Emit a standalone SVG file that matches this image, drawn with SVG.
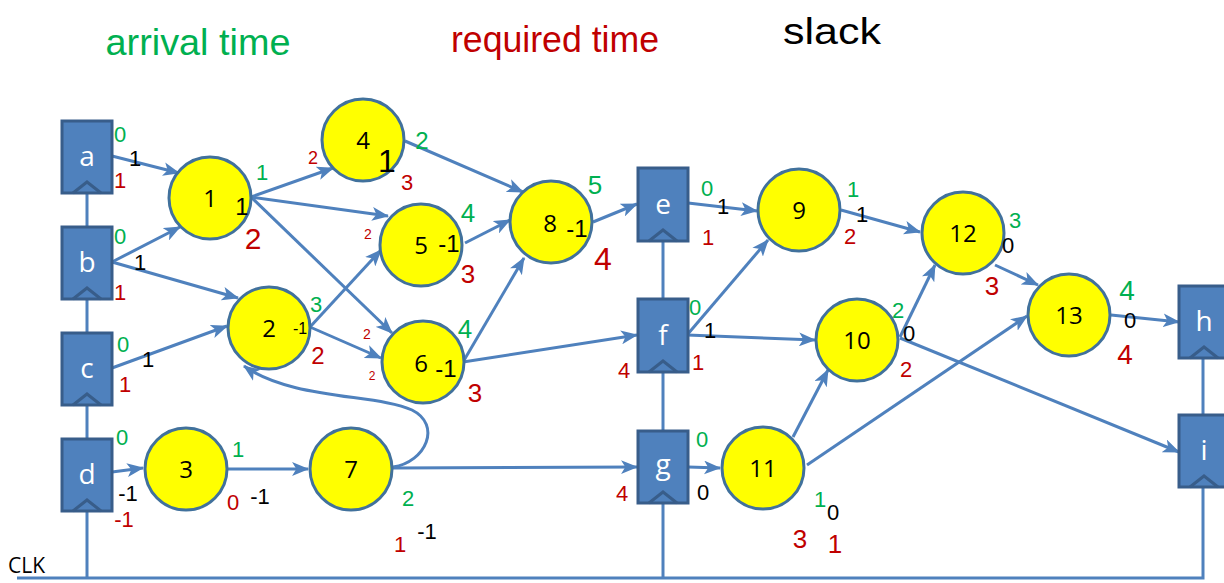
<svg xmlns="http://www.w3.org/2000/svg" width="1224" height="583" viewBox="0 0 1224 583">
  <defs>
    <marker id="arr" viewBox="0 0 16 13" refX="15" refY="6.5" markerWidth="17" markerHeight="14" markerUnits="userSpaceOnUse" orient="auto">
      <path d="M0,0 L16,6.5 L0,13 L4,6.5 z" fill="#4F81BD"/>
    </marker>
    <style>
      .reg rect { fill: #4F81BD; stroke: #385D8A; stroke-width: 3; }
      .reg polyline { fill: none; stroke: #385D8A; stroke-width: 3; }
      .reg text { font-family: "Open Sans", "Liberation Sans", sans-serif; font-size: 28px; fill: #ffffff; text-anchor: middle; }
      .gate circle { fill: #FFFF00; stroke: #41719C; stroke-width: 3; }
      .gate text { font-family: "Open Sans", "Liberation Sans", sans-serif; font-size: 24px; fill: #000000; text-anchor: middle; }
      .wire { fill: none; stroke: #4F81BD; stroke-width: 3; }
      .edge { fill: none; stroke: #4F81BD; stroke-width: 3; marker-end: url(#arr); }
      .note { font-family: "Liberation Sans", "DejaVu Sans", sans-serif; text-anchor: middle; }
      .g { fill: #00B050; }
      .r { fill: #C00000; }
      .k { fill: #000000; }
    </style>
  </defs>

  <!-- legend -->
  <g id="legend" class="note" font-size="36">
    <text class="g" x="198" y="55" textLength="185" lengthAdjust="spacingAndGlyphs">arrival time</text>
    <text class="r" x="555" y="52" textLength="208" lengthAdjust="spacingAndGlyphs">required time</text>
    <text class="k" x="832" y="44" textLength="98" lengthAdjust="spacingAndGlyphs">slack</text>
  </g>

  <!-- clock network and connectors -->
  <g id="connectors">
    <polyline class="wire" points="17,578 1203,578 1203,487"/>
    <line class="wire" x1="1203" y1="358" x2="1203" y2="414"/>
    <line class="wire" x1="87" y1="193" x2="87" y2="227"/>
    <line class="wire" x1="87" y1="299" x2="87" y2="332"/>
    <line class="wire" x1="87" y1="405" x2="87" y2="438"/>
    <line class="wire" x1="87" y1="511" x2="87" y2="578"/>
    <line class="wire" x1="663" y1="241" x2="663" y2="298"/>
    <line class="wire" x1="663" y1="372" x2="663" y2="430"/>
    <line class="wire" x1="663" y1="503" x2="663" y2="578"/>

    <line class="edge" x1="112" y1="156" x2="179" y2="173"/>
    <line class="edge" x1="112" y1="262" x2="180" y2="227"/>
    <line class="edge" x1="112" y1="262" x2="238" y2="298"/>
    <line class="edge" x1="112" y1="368" x2="227" y2="326"/>
    <line class="edge" x1="112" y1="472" x2="143" y2="468"/>
    <line class="edge" x1="228" y1="469" x2="308" y2="469"/>
    <line class="edge" x1="393" y1="468" x2="637" y2="467"/>
    <path class="edge" d="M393,467 C426,462 442,425 412,410 C378,394 292,400 244,366"/>

    <line class="edge" x1="251" y1="197" x2="333" y2="168"/>
    <line class="edge" x1="251" y1="197" x2="388" y2="216"/>
    <line class="edge" x1="251" y1="197" x2="392" y2="333"/>
    <line class="edge" x1="310" y1="327" x2="381" y2="250"/>
    <line class="edge" x1="310" y1="327" x2="381" y2="358"/>
    <line class="edge" x1="405" y1="141" x2="523" y2="192"/>
    <line class="edge" x1="465" y1="243" x2="510" y2="220"/>
    <line class="edge" x1="463" y1="362" x2="524" y2="258"/>
    <line class="edge" x1="463" y1="362" x2="637" y2="335"/>
    <line class="edge" x1="593" y1="222" x2="637" y2="204"/>

    <line class="edge" x1="688" y1="203" x2="757" y2="211"/>
    <line class="edge" x1="687" y1="335" x2="768" y2="240"/>
    <line class="edge" x1="687" y1="335" x2="815" y2="340"/>
    <line class="edge" x1="688" y1="467" x2="720" y2="468"/>
    <line class="edge" x1="793" y1="437" x2="828" y2="370"/>
    <line class="edge" x1="807" y1="465" x2="1027" y2="316"/>
    <line class="edge" x1="841" y1="210" x2="920" y2="232"/>
    <line class="edge" x1="900" y1="337" x2="935" y2="265"/>
    <line class="edge" x1="900" y1="338" x2="1179" y2="452"/>
    <line class="edge" x1="995" y1="265" x2="1038" y2="285"/>
    <line class="edge" x1="1111" y1="315" x2="1179" y2="322"/>
  </g>

  <!-- registers -->
  <g id="reg-a" class="reg"><rect x="62" y="121" width="50" height="72"/><polyline points="73,193 87,182 101,193"/><text x="87" y="166">a</text></g>
  <g id="reg-b" class="reg"><rect x="62" y="227" width="50" height="72"/><polyline points="73,299 87,288 101,299"/><text x="87" y="272">b</text></g>
  <g id="reg-c" class="reg"><rect x="62" y="333" width="50" height="72"/><polyline points="73,405 87,394 101,405"/><text x="87" y="378">c</text></g>
  <g id="reg-d" class="reg"><rect x="62" y="439" width="50" height="72"/><polyline points="73,511 87,500 101,511"/><text x="87" y="484">d</text></g>
  <g id="reg-e" class="reg"><rect x="638" y="168" width="50" height="73"/><polyline points="649,241 663,230 677,241"/><text x="663" y="214">e</text></g>
  <g id="reg-f" class="reg"><rect x="638" y="299" width="50" height="73"/><polyline points="649,372 663,361 677,372"/><text x="663" y="345">f</text></g>
  <g id="reg-g" class="reg"><rect x="638" y="431" width="50" height="72"/><polyline points="649,503 663,492 677,503"/><text x="663" y="474">g</text></g>
  <g id="reg-h" class="reg"><rect x="1179" y="286" width="50" height="72"/><polyline points="1190,358 1204,347 1218,358"/><text x="1204" y="331">h</text></g>
  <g id="reg-i" class="reg"><rect x="1179" y="415" width="50" height="72"/><polyline points="1190,487 1204,476 1218,487"/><text x="1204" y="460">i</text></g>

  <text id="clk" x="8" y="573" font-family="Open Sans, Liberation Sans, sans-serif" font-size="21" fill="#000">CLK</text>

  <!-- gates -->
  <g id="n1" class="gate"><circle cx="210" cy="198" r="41"/><text x="210" y="207">1</text></g>
  <g id="n2" class="gate"><circle cx="269" cy="328" r="41"/><text x="269" y="337">2</text></g>
  <g id="n3" class="gate"><circle cx="186" cy="469" r="41"/><text x="186" y="478">3</text></g>
  <g id="n4" class="gate"><circle cx="363" cy="140" r="41"/><text x="363" y="149">4</text></g>
  <g id="n5" class="gate"><circle cx="421" cy="245" r="41"/><text x="421" y="254">5</text></g>
  <g id="n6" class="gate"><circle cx="423" cy="362" r="41"/><text x="421" y="372">6</text></g>
  <g id="n7" class="gate"><circle cx="351" cy="469" r="41"/><text x="351" y="478">7</text></g>
  <g id="n8" class="gate"><circle cx="551" cy="222" r="41"/><text x="550" y="232">8</text></g>
  <g id="n9" class="gate"><circle cx="799" cy="210" r="41"/><text x="799" y="219">9</text></g>
  <g id="n10" class="gate"><circle cx="857" cy="340" r="41"/><text x="857" y="349">10</text></g>
  <g id="n11" class="gate"><circle cx="763" cy="468" r="41"/><text x="763" y="477">11</text></g>
  <g id="n12" class="gate"><circle cx="963" cy="233" r="41"/><text x="963" y="242">12</text></g>
  <g id="n13" class="gate"><circle cx="1069" cy="315" r="41"/><text x="1069" y="324">13</text></g>

  <!-- timing annotations: arrival (green), required (red), slack (black) -->
  <g id="notes" class="note" font-size="22">
    <!-- a, b, c, d -->
    <text class="g" x="120" y="142">0</text><text class="k" x="135" y="166">1</text><text class="r" x="120" y="188">1</text>
    <text class="g" x="120" y="244">0</text><text class="k" x="140" y="270">1</text><text class="r" x="120" y="300">1</text>
    <text class="g" x="123" y="352">0</text><text class="k" x="148" y="367">1</text><text class="r" x="125" y="392">1</text>
    <text class="g" x="122" y="445">0</text><text class="k" x="128" y="501">-1</text><text class="r" x="124" y="527">-1</text>
    <!-- 1 -->
    <text class="g" x="262" y="180">1</text><text class="k" x="242" y="215" font-size="24">1</text><text class="r" x="253" y="249" font-size="30">2</text>
    <!-- 2 -->
    <text class="k" x="300" y="334" font-size="16">-1</text><text class="g" x="316" y="312">3</text><text class="r" x="318" y="364" font-size="24">2</text>
    <!-- 3 -->
    <text class="g" x="238" y="457">1</text><text class="r" x="233" y="510">0</text><text class="k" x="260" y="504">-1</text>
    <!-- 4 -->
    <text class="r" x="313" y="164" font-size="18">2</text><text class="k" x="387" y="172" font-size="32">1</text>
    <text class="g" x="422" y="149" font-size="24">2</text><text class="r" x="407" y="190">3</text>
    <!-- 5 -->
    <text class="r" x="368" y="239" font-size="14">2</text><text class="k" x="449" y="252" font-size="24">-1</text>
    <text class="g" x="468" y="222" font-size="26">4</text><text class="r" x="468" y="283" font-size="26">3</text>
    <!-- 6 -->
    <text class="r" x="367" y="339" font-size="14">2</text><text class="r" x="372" y="380" font-size="12">2</text>
    <text class="k" x="446" y="377" font-size="24">-1</text><text class="g" x="465" y="338" font-size="26">4</text><text class="r" x="475" y="402" font-size="26">3</text>
    <!-- 7 -->
    <text class="g" x="408" y="506">2</text><text class="r" x="400" y="552">1</text><text class="k" x="427" y="539">-1</text>
    <!-- 8 -->
    <text class="k" x="577" y="237" font-size="24">-1</text><text class="g" x="595" y="194" font-size="26">5</text><text class="r" x="603" y="270" font-size="32">4</text>
    <!-- e, f, g -->
    <text class="g" x="707" y="196">0</text><text class="k" x="723" y="214">1</text><text class="r" x="708" y="245">1</text>
    <text class="r" x="624" y="378">4</text>
    <text class="g" x="695" y="315">0</text><text class="k" x="710" y="338">1</text><text class="r" x="698" y="370">1</text>
    <text class="g" x="702" y="447">0</text><text class="k" x="703" y="500">0</text><text class="r" x="622" y="501">4</text>
    <!-- 9 -->
    <text class="g" x="853" y="197">1</text><text class="k" x="862" y="222">1</text><text class="r" x="850" y="244">2</text>
    <!-- 10 -->
    <text class="g" x="898" y="318">2</text><text class="k" x="909" y="341">0</text><text class="r" x="906" y="377">2</text>
    <!-- 11 -->
    <text class="g" x="820" y="507">1</text><text class="k" x="833" y="520">0</text>
    <text class="r" x="800" y="548" font-size="26">3</text><text class="r" x="835" y="553" font-size="26">1</text>
    <!-- 12 -->
    <text class="g" x="1015" y="228">3</text><text class="k" x="1008" y="253">0</text><text class="r" x="992" y="295" font-size="26">3</text>
    <!-- 13 -->
    <text class="g" x="1127" y="300" font-size="28">4</text><text class="k" x="1130" y="328">0</text><text class="r" x="1125" y="364" font-size="28">4</text>
  </g>
</svg>
